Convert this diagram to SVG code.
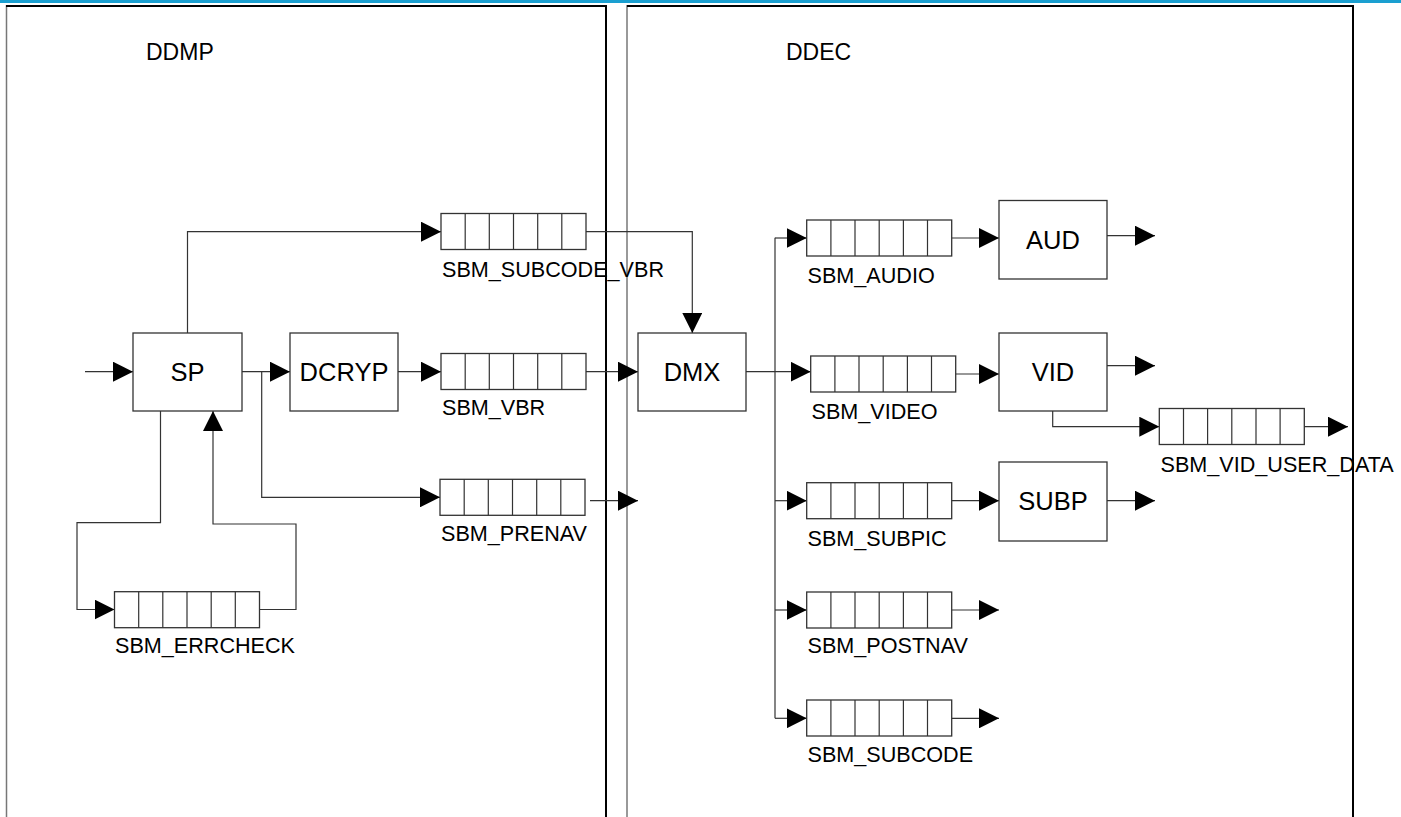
<svg xmlns="http://www.w3.org/2000/svg" width="1401" height="817" viewBox="0 0 1401 817">
<defs>
<style>
.frame-l{stroke:#777;stroke-width:1.5;fill:none}
.frame-k{stroke:#000;stroke-width:2;fill:none}
.box{fill:#fff;stroke:#333;stroke-width:1.3}
.cell{fill:none;stroke:#333;stroke-width:1.2}
.btxt{font-family:"Liberation Sans",Arial,sans-serif;font-size:25.5px;fill:#000;text-anchor:middle}
.lbl{font-family:"Liberation Sans",Arial,sans-serif;font-size:21.6px;fill:#000}
.ttl{font-family:"Liberation Sans",Arial,sans-serif;font-size:23px;fill:#000}
.con{fill:none;stroke:#333;stroke-width:1.2}
.arr{marker-end:url(#ah)}
</style>
<marker id="ah" markerUnits="userSpaceOnUse" markerWidth="20" markerHeight="20" refX="20" refY="10" orient="auto">
<path d="M0,0 L20,10 L0,20 Z" fill="#000"/>
</marker>
<g id="buf">
<rect class="box" x="0" y="0" width="145" height="36"/>
<path class="cell" d="M24.2,0V36M48.3,0V36M72.5,0V36M96.7,0V36M120.8,0V36"/>
</g>
</defs>
<rect x="0" y="0" width="1401" height="817" fill="#fff"/>
<rect x="0" y="0" width="1401" height="3" fill="#1a9fd0"/>

<g id="DDMP">
<line class="frame-l" x1="6.5" y1="5" x2="6.5" y2="817"/>
<path class="frame-k" d="M6,6 H606 V817"/>
<text class="ttl" x="146" y="60">DDMP</text>
</g>
<g id="DDEC">
<line class="frame-l" x1="627" y1="5" x2="627" y2="817"/>
<path class="frame-k" d="M627,6 H1353 V817"/>
<text class="ttl" x="786" y="60">DDEC</text>
</g>

<g id="connectors">
<line class="con arr" x1="85" y1="371.7" x2="133" y2="371.7"/>
<path class="con arr" d="M187.5,333 V231.7 H441"/>
<path class="con arr" d="M586,231.7 H692.3 V333"/>
<line class="con arr" x1="242" y1="371.7" x2="290" y2="371.7"/>
<path class="con arr" d="M261.7,371.7 V497.3 H440"/>
<line class="con arr" x1="398" y1="371.7" x2="441" y2="371.7"/>
<line class="con arr" x1="586" y1="371.7" x2="638" y2="371.7"/>
<line class="con arr" x1="590" y1="500.7" x2="638" y2="500.7"/>
<path class="con arr" d="M160.5,411 V522.7 H77 V609.5 H114.5"/>
<path class="con arr" d="M259.5,609.5 H296 V524 H213 V411"/>
<line class="con arr" x1="746" y1="371.7" x2="810.7" y2="371.7"/>
<line class="con" x1="775" y1="237.7" x2="775" y2="718.3"/>
<line class="con arr" x1="775" y1="238" x2="806.7" y2="238"/>
<line class="con arr" x1="775" y1="500.7" x2="806.7" y2="500.7"/>
<line class="con arr" x1="775" y1="610" x2="806.7" y2="610"/>
<line class="con arr" x1="775" y1="718.3" x2="806.7" y2="718.3"/>
<line class="con arr" x1="951" y1="238" x2="999" y2="238"/>
<line class="con arr" x1="955" y1="374" x2="999" y2="374"/>
<line class="con arr" x1="951" y1="500.7" x2="999" y2="500.7"/>
<line class="con arr" x1="1107" y1="235.7" x2="1155" y2="235.7"/>
<line class="con arr" x1="1107" y1="365.7" x2="1155" y2="365.7"/>
<line class="con arr" x1="1107" y1="500.7" x2="1155" y2="500.7"/>
<path class="con arr" d="M1052.7,411 V426.7 H1159.3"/>
<line class="con arr" x1="1303.3" y1="426.7" x2="1348" y2="426.7"/>
<line class="con arr" x1="951" y1="610" x2="999" y2="610"/>
<line class="con arr" x1="951" y1="718.3" x2="999" y2="718.3"/>
</g>

<g id="SP"><rect class="box" x="133" y="333" width="109" height="78"/><text class="btxt" x="187.5" y="381">SP</text></g>
<g id="DCRYP"><rect class="box" x="290" y="333" width="108" height="78"/><text class="btxt" x="344" y="381">DCRYP</text></g>
<g id="DMX"><rect class="box" x="638" y="333" width="108" height="78"/><text class="btxt" x="692" y="381">DMX</text></g>
<g id="AUD"><rect class="box" x="999" y="200.5" width="108" height="78.5"/><text class="btxt" x="1053" y="248.5">AUD</text></g>
<g id="VID"><rect class="box" x="999" y="333" width="108" height="78"/><text class="btxt" x="1053" y="381">VID</text></g>
<g id="SUBP"><rect class="box" x="999" y="462" width="108" height="79"/><text class="btxt" x="1053" y="510">SUBP</text></g>

<g id="SBM_SUBCODE_VBR"><use href="#buf" x="441" y="213.5"/><text class="lbl" x="442" y="276.5">SBM_SUBCODE_VBR</text></g>
<g id="SBM_VBR"><use href="#buf" x="441" y="353.5"/><text class="lbl" x="442" y="415">SBM_VBR</text></g>
<g id="SBM_PRENAV"><use href="#buf" x="440" y="479.3"/><text class="lbl" x="441" y="541">SBM_PRENAV</text></g>
<g id="SBM_ERRCHECK"><use href="#buf" x="114.5" y="591.7"/><text class="lbl" x="115" y="653.3">SBM_ERRCHECK</text></g>
<g id="SBM_AUDIO"><use href="#buf" x="806.7" y="220"/><text class="lbl" x="807.5" y="282.7">SBM_AUDIO</text></g>
<g id="SBM_VIDEO"><use href="#buf" x="810.7" y="356"/><text class="lbl" x="811.5" y="418.7">SBM_VIDEO</text></g>
<g id="SBM_SUBPIC"><use href="#buf" x="806.7" y="482.7"/><text class="lbl" x="807.5" y="545.7">SBM_SUBPIC</text></g>
<g id="SBM_POSTNAV"><use href="#buf" x="806.7" y="592"/><text class="lbl" x="807.5" y="653.3">SBM_POSTNAV</text></g>
<g id="SBM_SUBCODE"><use href="#buf" x="806.7" y="700"/><text class="lbl" x="807.5" y="762.3">SBM_SUBCODE</text></g>
<g id="SBM_VID_USER_DATA"><use href="#buf" x="1159.3" y="408.5"/><text class="lbl" x="1160.5" y="471.7">SBM_VID_USER_DATA</text></g>
</svg>
